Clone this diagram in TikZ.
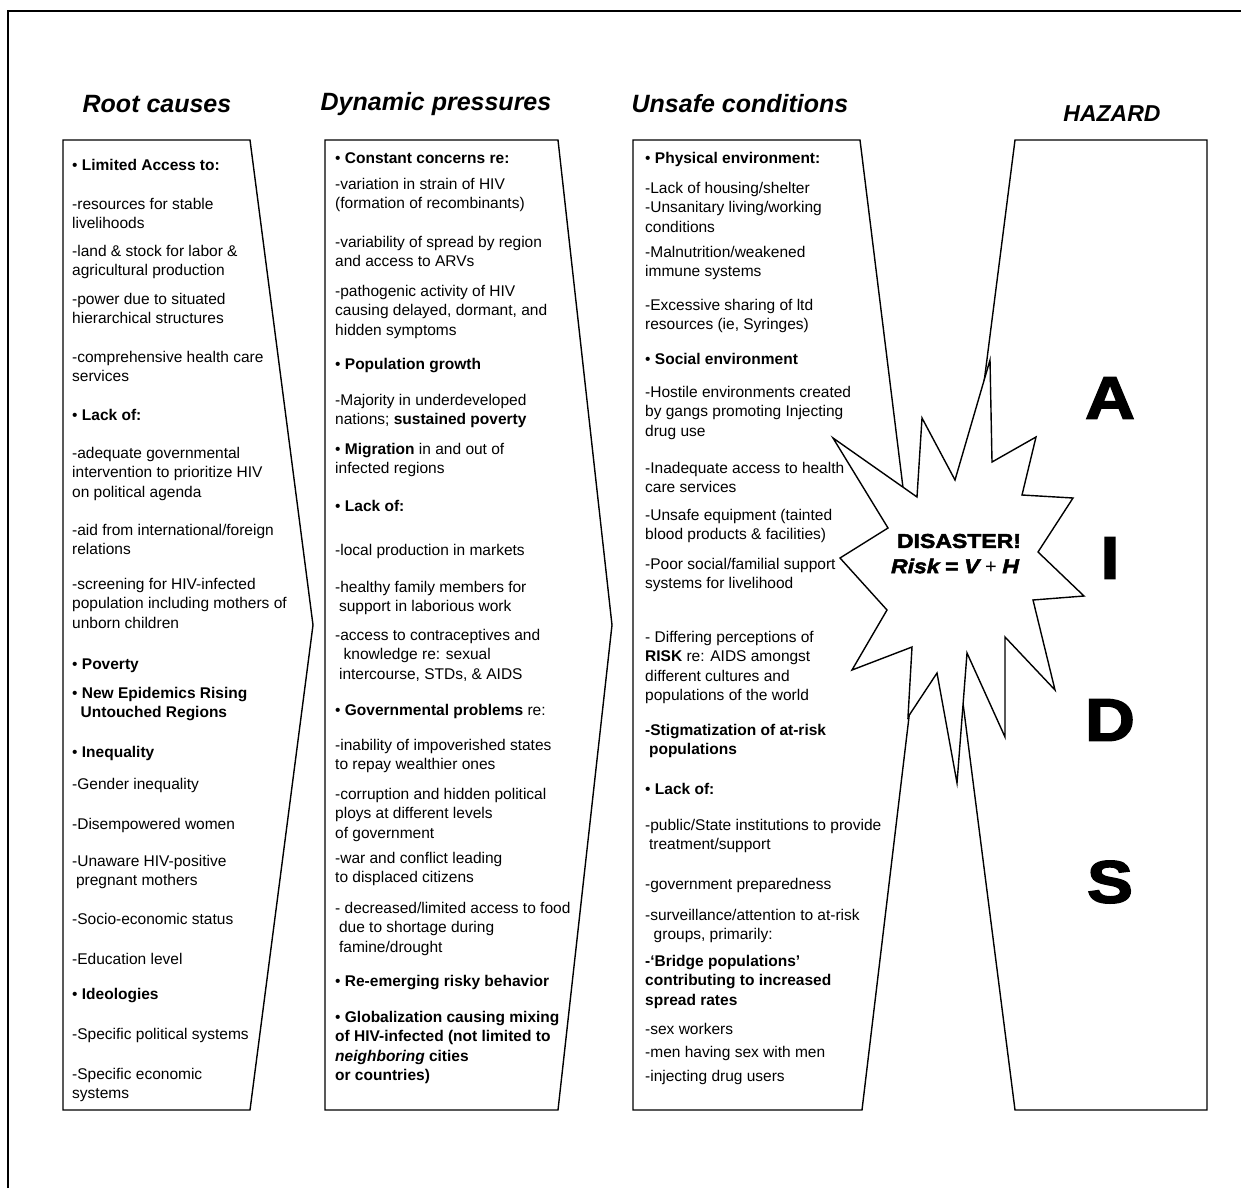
\documentclass[tikz,border=0pt]{standalone}
\usepackage{fontspec}
\setmainfont{Liberation Sans}
\newfontfamily\heavyfont{Liberation Sans Bold}[FakeBold=2.5,FakeStretch=1.15]
\newfontfamily\heavyitfont{Liberation Sans Bold Italic}[FakeBold=2.5,FakeStretch=1.15]

\begin{document}
\begin{tikzpicture}[x=1pt,y=-1pt]
	\tikzstyle{title} = [font=\fontsize{25}{25}\selectfont\bfseries\itshape]
	\tikzstyle{entry} = [anchor=north west,inner sep=0pt,align=left,font=\fontsize{15.5}{19.5}\selectfont,execute at begin node=\strut]
	\tikzstyle{box} = [draw=black,line width=1.4pt,line join=miter]
	\tikzstyle{letter} = [font=\heavyfont\fontsize{60}{60}\selectfont]
	\useasboundingbox (0,0) rectangle (1241,1188);
	% Frame
	\draw[line width=2pt] (8,1188) -- (8,11) -- (1241,11);
	% Titles
	\node[title] (t1) at (157,104) {Root causes};
	\node[title] (t2) at (436,104) {Dynamic pressures};
	\node[title] (t3) at (740,104) {Unsafe conditions};
	\node[font=\fontsize{23}{23}\selectfont\bfseries\itshape] (t4) at (1112,114) {HAZARD};
	% Boxes
	\draw[box] (63,140) -- (250,140) -- (313,625) -- (250,1110) -- (63,1110) -- cycle;
	\draw[box] (325,140) -- (558,140) -- (612,625) -- (558,1110) -- (325,1110) -- cycle;
	\draw[box] (633,140) -- (860,140) -- (920,625) -- (862,1110) -- (633,1110) -- cycle;
	\draw[box] (1015,140) -- (1207,140) -- (1207,1110) -- (1015,1110) -- (953,625) -- cycle;
	% Root causes
	\node[entry] (rc1) at (72,157) {• \textbf{Limited Access to:}};
	\node[entry] (rc2) at (72,198) {-resources for stable\\livelihoods};
	\node[entry] (rc3) at (72,245) {-land \& stock for labor \&\\agricultural production};
	\node[entry] (rc4) at (72,293) {-power due to situated\\hierarchical structures};
	\node[entry] (rc5) at (72,351) {-comprehensive health care\\services};
	\node[entry] (rc6) at (72,407) {• \textbf{Lack of:}};
	\node[entry] (rc7) at (72,447) {-adequate governmental\\intervention to prioritize HIV\\on political agenda};
	\node[entry] (rc8) at (72,524) {-aid from international/foreign\\relations};
	\node[entry] (rc9) at (72,578) {-screening for HIV-infected\\population including mothers of\\unborn children};
	\node[entry] (rc10) at (72,656) {• \textbf{Poverty}};
	\node[entry] (rc11) at (72,687) {• \textbf{New Epidemics Rising}\\\hspace*{0.55em}\textbf{Untouched Regions}};
	\node[entry] (rc12) at (72,744) {• \textbf{Inequality}};
	\node[entry] (rc13) at (72,776) {-Gender inequality};
	\node[entry] (rc14) at (72,816) {-Disempowered women};
	\node[entry] (rc15) at (72,855) {-Unaware HIV-positive\\\hspace*{0.25em}pregnant mothers};
	\node[entry] (rc16) at (72,911) {-Socio-economic status};
	\node[entry] (rc17) at (72,951) {-Education level};
	\node[entry] (rc18) at (72,986) {• \textbf{Ideologies}};
	\node[entry] (rc19) at (72,1026) {-Specific political systems};
	\node[entry] (rc20) at (72,1068) {-Specific economic\\systems};
	% Dynamic pressures
	\node[entry] (dp1) at (335,150) {• \textbf{Constant concerns re:}};
	\node[entry] (dp2) at (335,178) {-variation in strain of HIV\\(formation of recombinants)};
	\node[entry] (dp3) at (335,236) {-variability of spread by region\\and access to ARVs};
	\node[entry] (dp4) at (335,285) {-pathogenic activity of HIV\\causing delayed, dormant, and\\hidden symptoms};
	\node[entry] (dp5) at (335,356) {• \textbf{Population growth}};
	\node[entry] (dp6) at (335,394) {-Majority in underdeveloped\\nations; \textbf{sustained poverty}};
	\node[entry] (dp7) at (335,443) {• \textbf{Migration} in and out of\\infected regions};
	\node[entry] (dp8) at (335,498) {• \textbf{Lack of:}};
	\node[entry] (dp9) at (335,542) {-local production in markets};
	\node[entry] (dp10) at (335,581) {-healthy family members for\\\hspace*{0.25em}support in laborious work};
	\node[entry] (dp11) at (335,629) {-access to contraceptives and\\\hspace*{0.55em}knowledge re: sexual\\\hspace*{0.25em}intercourse, STDs, \& AIDS};
	\node[entry] (dp12) at (335,702) {• \textbf{Governmental problems} re:};
	\node[entry] (dp13) at (335,739) {-inability of impoverished states\\to repay wealthier ones};
	\node[entry] (dp14) at (335,788) {-corruption and hidden political\\ploys at different levels\\of government};
	\node[entry] (dp15) at (335,852) {-war and conflict leading\\to displaced citizens};
	\node[entry] (dp16) at (335,902) {- decreased/limited access to food\\\hspace*{0.25em}due to shortage during\\\hspace*{0.25em}famine/drought};
	\node[entry] (dp17) at (335,973) {• \textbf{Re-emerging risky behavior}};
	\node[entry] (dp18) at (335,1011) {• \textbf{Globalization causing mixing}\\\textbf{of HIV-infected (not limited to}\\\textbf{\textit{neighboring} cities}\\\textbf{or countries)}};
	% Unsafe conditions
	\node[entry] (uc1) at (645,150) {• \textbf{Physical environment:}};
	\node[entry] (uc2) at (645,182) {-Lack of housing/shelter\\-Unsanitary living/working\\conditions};
	\node[entry] (uc3) at (645,246) {-Malnutrition/weakened\\immune systems};
	\node[entry] (uc4) at (645,299) {-Excessive sharing of ltd\\resources (ie, Syringes)};
	\node[entry] (uc5) at (645,351) {• \textbf{Social environment}};
	\node[entry] (uc6) at (645,386) {-Hostile environments created\\by gangs promoting Injecting\\drug use};
	\node[entry] (uc7) at (645,462) {-Inadequate access to health\\care services};
	\node[entry] (uc8) at (645,509) {-Unsafe equipment (tainted\\blood products \& facilities)};
	\node[entry] (uc9) at (645,558) {-Poor social/familial support\\systems for livelihood};
	\node[entry] (uc10) at (645,631) {- Differing perceptions of\\\textbf{RISK} re: AIDS amongst\\different cultures and\\populations of the world};
	\node[entry] (uc11) at (645,724) {\textbf{-Stigmatization of at-risk}\\\hspace*{0.25em}\textbf{populations}};
	\node[entry] (uc12) at (645,781) {• \textbf{Lack of:}};
	\node[entry] (uc13) at (645,819) {-public/State institutions to provide\\\hspace*{0.25em}treatment/support};
	\node[entry] (uc14) at (645,876) {-government preparedness};
	\node[entry] (uc15) at (645,909) {-surveillance/attention to at-risk\\\hspace*{0.55em}groups, primarily:};
	\node[entry] (uc16) at (645,955) {\textbf{-‘Bridge populations’}\\\textbf{contributing to increased}\\\textbf{spread rates}};
	\node[entry] (uc17) at (645,1021) {-sex workers};
	\node[entry] (uc18) at (645,1044) {-men having sex with men};
	\node[entry] (uc19) at (645,1068) {-injecting drug users};
	% Disaster
	\draw[box,fill=white] (990,360) -- (992,462) -- (1036,437) -- (1022,495) -- (1073,498) -- (1038,552)
		-- (1084,596) -- (1033,600) -- (1055,690) -- (1005,637) -- (1005,737) -- (967,653)
		-- (957,783) -- (937,673) -- (908,717) -- (912,647) -- (852,670) -- (887,610)
		-- (840,558) -- (888,528) -- (833,438) -- (917,497) -- (922,418) -- (955,480) -- cycle;
	\node[font=\heavyfont\fontsize{20}{20}\selectfont] (disaster) at (959,541) {DISASTER!};
	\node[font=\fontsize{20}{20}\selectfont] (risk) at (955,566) {{\heavyitfont Risk} {\heavyfont =} {\heavyitfont V} + {\heavyitfont H}};
	% Hazard
	\node[letter] (hA) at (1110,398) {A};
	\node[letter] (hI) at (1110,558) {I};
	\node[letter] (hD) at (1110,720) {D};
	\node[letter] (hS) at (1110,882) {S};
\end{tikzpicture}
\end{document}
